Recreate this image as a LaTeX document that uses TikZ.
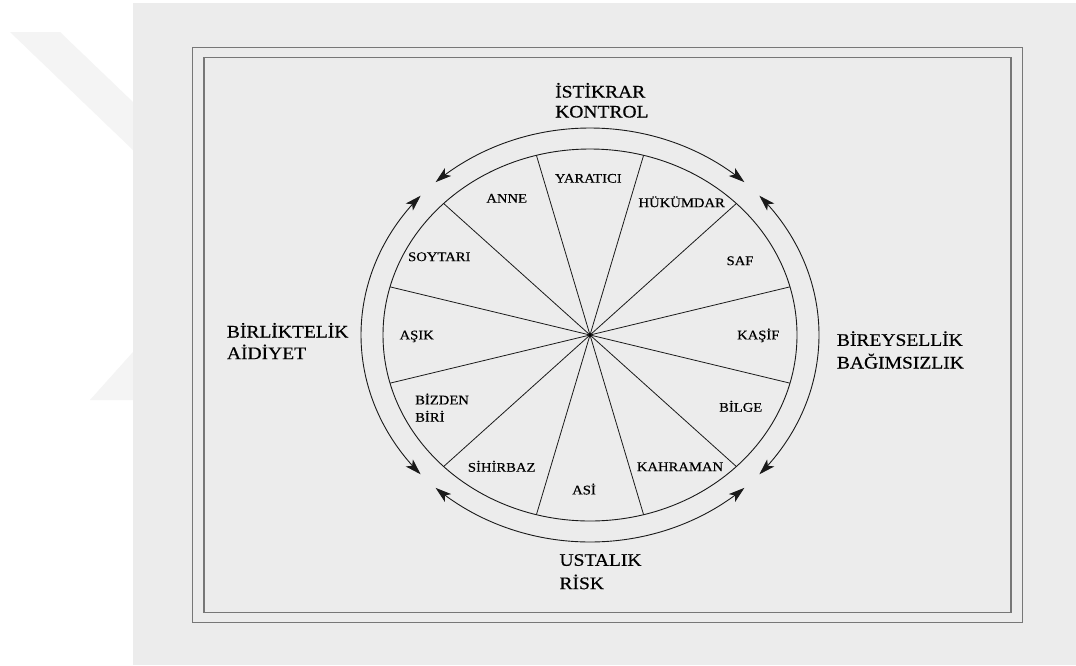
\documentclass[tikz,border=0pt]{standalone}
\usepackage{fontspec}
\setmainfont{Liberation Serif}[FakeStretch=1.11,FakeBold=0.5]
\usetikzlibrary{arrows.meta}
\definecolor{pagegray}{HTML}{ECECEC}
\definecolor{wmark}{HTML}{F4F4F4}
\definecolor{framecol}{HTML}{777777}
\definecolor{inkcol}{HTML}{1A1A1A}
\tikzset{
  outerlbl/.style={font=\fontsize{17.6}{21}\selectfont, align=left, anchor=base west, inner sep=0pt, text=black},
  innerlbl/.style={font=\fontsize{13.2}{17.3}\selectfont, anchor=base, inner sep=0pt, text=black},
  framebox/.style={draw=framecol, line width=1.3pt},
  ring/.style={draw=inkcol, line width=0.9pt},
  spoke/.style={draw=inkcol, line width=0.8pt},
  dbl/.style={draw=inkcol, line width=0.9pt, {Stealth[length=16pt,width=10pt,inset=4pt]}-{Stealth[length=16pt,width=10pt,inset=4pt]}}
}
\begin{document}
\begin{tikzpicture}[x=1pt,y=-1pt]
\useasboundingbox (0,0) rectangle (1076,665);
\fill[white] (0,0) rectangle (1076,665);
\fill[wmark] (10,32) -- (60,32) -- (133,102) -- (133,150) -- cycle;
\fill[wmark] (90,400) -- (133,400) -- (133,352) -- cycle;
\fill[pagegray] (133,3) rectangle (1076,665);
% frame
\draw[framebox] (192.7,47.5) rectangle (1022.7,622.3);
\draw[framebox] (204,57.5) rectangle (1011,612.3);
% wheel
\coordinate (c) at (590,335);
\draw[ring] (c) ellipse [x radius=207pt, y radius=186pt];
\foreach \a in {15,45,...,345} {
  \draw[spoke] (c) -- ({590+207*cos(\a)},{335-186*sin(\a)});
}
\fill[black] (c) circle (1.6pt);
% outer double arrows
\draw[dbl] plot[domain=132.4:47.6, samples=60, smooth] ({590+229*cos(\x)},{335-207*sin(\x)});
\draw[dbl] plot[domain=-42.3:42.3, samples=60, smooth] ({590+229*cos(\x)},{335-207*sin(\x)});
\draw[dbl] plot[domain=-132.4:-47.6, samples=60, smooth] ({590+229*cos(\x)},{335-207*sin(\x)});
\draw[dbl] plot[domain=137.7:222.3, samples=60, smooth] ({590+229*cos(\x)},{335-207*sin(\x)});
% outer labels (base = last line)
\node[outerlbl, font=\fontsize{17.6}{20}\selectfont] (top) at (555,117.5) {İSTİKRAR\\KONTROL};
\node[outerlbl, font=\fontsize{17.6}{23.3}\selectfont] (bottom) at (559.3,589.1) {USTALIK\\RİSK};
\node[outerlbl, font=\fontsize{17.6}{21.6}\selectfont] (left) at (226.7,359.1) {BİRLİKTELİK\\AİDİYET};
\node[outerlbl, font=\fontsize{17.6}{22.7}\selectfont] (right) at (836.7,368.5) {BİREYSELLİK\\BAĞIMSIZLIK};
% sector labels
\node[innerlbl] (yaratici) at (588.3,182.7) {YARATICI};
\node[innerlbl] (anne) at (506.7,202.7) {ANNE};
\node[innerlbl] (hukumdar) at (681.7,207.1) {HÜKÜMDAR};
\node[innerlbl] (soytari) at (439.3,261.1) {SOYTARI};
\node[innerlbl] (asik) at (416.7,339.4) {AŞIK};
\node[innerlbl, anchor=base west, align=left] (bizden) at (415,421.7) {BİZDEN\\BİRİ};
\node[innerlbl] (sihirbaz) at (501.7,471.7) {SİHİRBAZ};
\node[innerlbl] (asi) at (584,494.4) {ASİ};
\node[innerlbl] (kahraman) at (680,471.1) {KAHRAMAN};
\node[innerlbl] (saf) at (740,265.1) {SAF};
\node[innerlbl] (kasif) at (758.3,339.4) {KAŞİF};
\node[innerlbl] (bilge) at (740.7,411.7) {BİLGE};
\end{tikzpicture}
\end{document}
